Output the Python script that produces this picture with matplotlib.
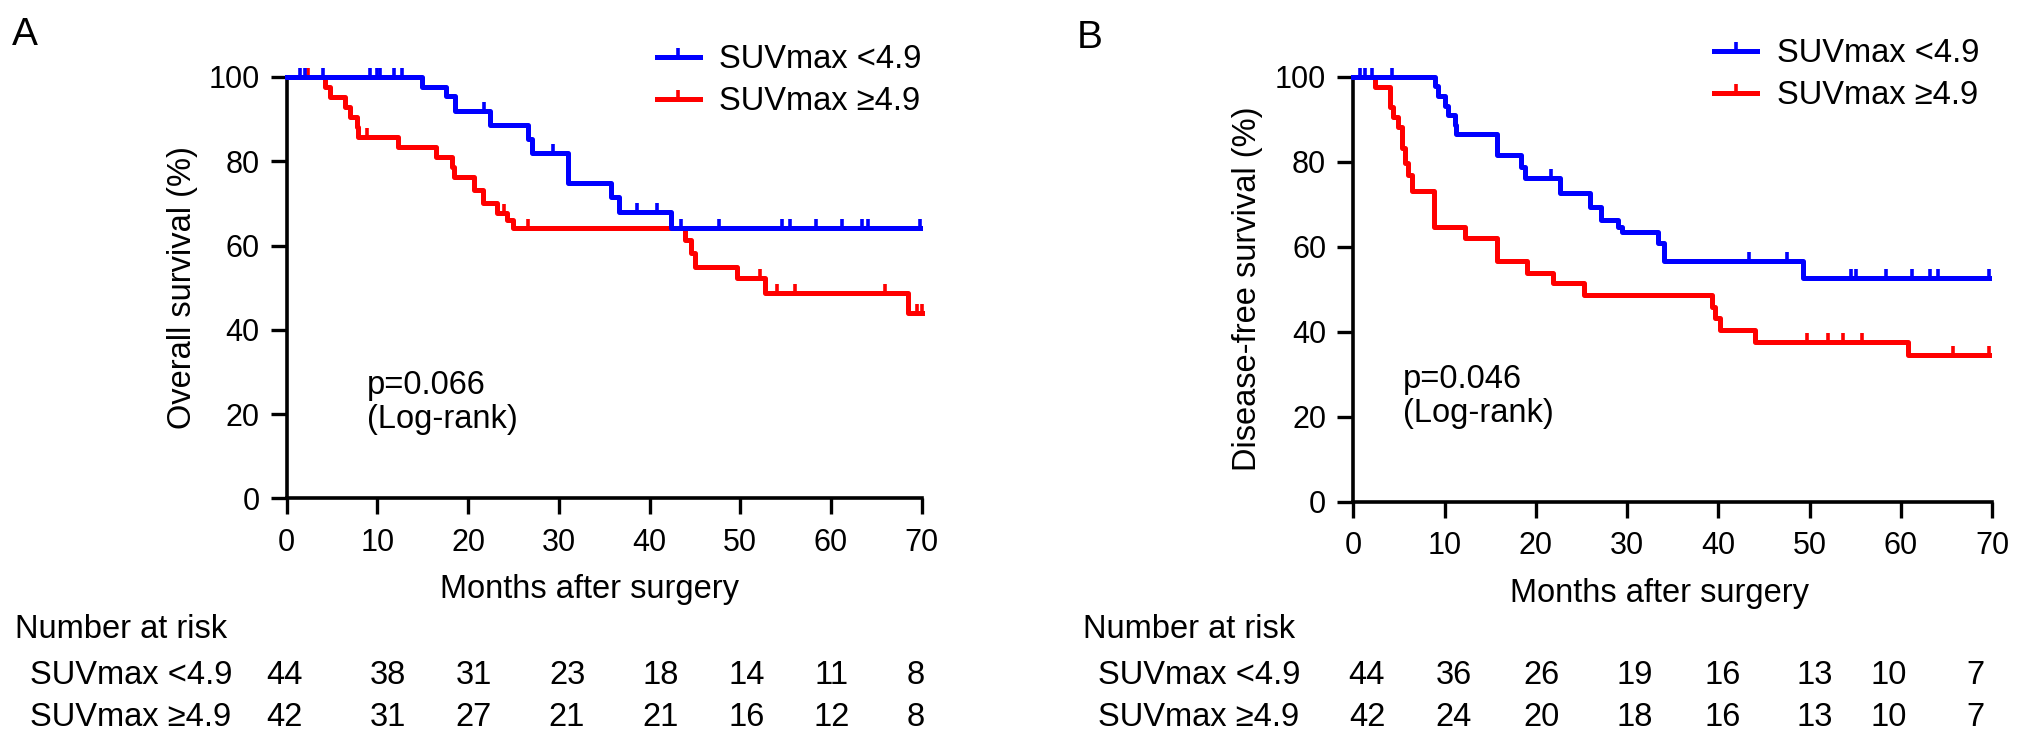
import numpy as np
import matplotlib
matplotlib.use("Agg")
import matplotlib.pyplot as plt
from matplotlib.lines import Line2D
from matplotlib.markers import TICKUP
from matplotlib.transforms import blended_transform_factory

plt.rcParams['font.family'] = ['Liberation Sans', 'DejaVu Sans']

W, H = 2032, 740
BLUE = '#0000ff'
RED = '#ff0000'
LABELS = ['SUVmax <4.9', 'SUVmax \u22654.9']

# --- DATA ---
# Panel A: overall survival
os_low_t = [0, 14.9, 17.6, 18.6, 22.4, 26.6, 27.0, 31.0, 35.8, 36.6, 42.4]
os_low_s = [100, 97.7, 95.5, 92.0, 88.6, 85.4, 81.9, 74.8, 71.6, 68.0, 64.1]
os_low_c = [1.5, 2.0, 4.0, 9.2, 9.9, 10.3, 11.8, 12.7, 21.7, 29.4, 38.6, 40.8,
            43.5, 47.6, 54.6, 55.5, 58.4, 61.2, 63.4, 64.1, 69.8]

os_high_t = [0, 4.2, 4.8, 6.4, 7.0, 7.7, 7.9, 12.3, 16.5, 18.2, 18.4, 20.6, 21.6,
             23.2, 24.3, 25.0, 43.9, 44.6, 45.0, 49.6, 52.7, 68.5]
os_high_s = [100, 97.6, 95.2, 92.9, 90.5, 88.1, 85.7, 83.3, 81.0, 78.6, 76.2, 73.2, 70.0,
             67.8, 66.1, 64.1, 61.3, 58.2, 55.0, 52.2, 48.7, 43.9]
os_high_c = [2.4, 8.8, 24.0, 26.6, 52.2, 54.0, 56.0, 66.0, 69.5, 70.0]

# Panel B: disease-free survival
dfs_low_t = [0, 8.9, 9.3, 10.0, 10.4, 11.1, 11.3, 15.7, 18.4, 18.8, 22.6, 25.9, 27.2,
             29.0, 29.4, 33.4, 34.0, 49.3]
dfs_low_s = [100, 97.7, 95.5, 93.2, 90.9, 88.6, 86.4, 81.5, 78.8, 76.1, 72.6, 69.4, 66.3,
             64.7, 63.5, 60.8, 56.5, 52.6]
dfs_low_c = [0.7, 1.3, 2.1, 4.2, 21.7, 43.4, 47.5, 54.6, 55.1, 58.4, 61.2, 63.2, 64.1, 69.7]

dfs_high_t = [0, 2.4, 4.0, 4.4, 4.9, 5.3, 5.7, 6.0, 6.4, 8.8, 12.2, 15.7, 19.0, 21.9,
              25.3, 39.3, 39.6, 40.2, 44.0, 60.8]
dfs_high_s = [100, 97.6, 92.9, 90.5, 88.1, 83.3, 79.7, 76.9, 73.0, 64.7, 62.0, 56.5, 53.7,
              51.4, 48.6, 45.9, 43.2, 40.4, 37.6, 34.5]
dfs_high_c = [49.7, 52.0, 53.7, 55.7, 65.7, 69.7]

# number at risk
risk_a_low = [44, 38, 31, 23, 18, 14, 11, 8]
risk_a_high = [42, 31, 27, 21, 21, 16, 12, 8]
risk_b_low = [44, 36, 26, 19, 16, 13, 10, 7]
risk_b_high = [42, 24, 20, 18, 16, 13, 10, 7]

# --- LAYOUT (pixels) ---
RISK_COLS_A = [-0.2, 11.2, 20.6, 30.9, 41.2, 50.7, 60.1, 69.3]
RISK_COLS_B = [1.5, 11.0, 20.6, 30.8, 40.5, 50.6, 58.7, 68.2]
FS = 23.5
FS_TICK = 22
LW = 3.6
MS, MEW = 6.5, 2.6


def fx(x):
    return x / W


def fy(y):
    return 1 - y / H


def km(ax, t, s, cens, color, z):
    t_end = max(max(cens), t[-1])
    ax.step(list(t) + [t_end], list(s) + [s[-1]], where='post', color=color, lw=LW,
            clip_on=False, zorder=z)
    idx = np.searchsorted(t, cens, side='right') - 1
    ax.plot(cens, np.asarray(s)[idx], ls='none', marker=TICKUP, ms=MS, mew=MEW,
            color=color, clip_on=False, zorder=z)


def style(ax):
    ax.set_xlim(0, 70)
    ax.set_ylim(0, 100)
    ax.set_xticks(range(0, 71, 10))
    ax.set_yticks(range(0, 101, 20))
    for sp in ['top', 'right']:
        ax.spines[sp].set_visible(False)
    for sp in ['left', 'bottom']:
        ax.spines[sp].set_linewidth(2.6)
    ax.tick_params(axis='both', direction='out', length=11.5, width=2.4, labelsize=FS_TICK)
    ax.tick_params(axis='x', pad=10)
    ax.tick_params(axis='y', pad=8)


def risk_table(fig, ax, cols, head_x, row_x, low, high):
    tr = blended_transform_factory(ax.transData, fig.transFigure)
    fig.text(fx(head_x), fy(637.5), 'Number at risk', fontsize=FS, va='baseline')
    for lab, vals, base in zip(LABELS, [low, high], [683.5, 725.5]):
        fig.text(fx(row_x), fy(base), lab, fontsize=FS, va='baseline')
        for c, v in zip(cols, vals):
            ax.text(c, fy(base), str(v), transform=tr, fontsize=FS, ha='center', va='baseline')


def legend(fig, ax, x, y):
    handles = [Line2D([], [], color=c, lw=LW, marker=TICKUP, ms=MS, mew=MEW) for c in (BLUE, RED)]
    ax.legend(handles, LABELS, loc='upper left', bbox_to_anchor=(fx(x), fy(y)),
              bbox_transform=fig.transFigure, frameon=False, borderpad=0, borderaxespad=0,
              handlelength=1.32, handletextpad=0.6, labelspacing=0.35, fontsize=FS,
              numpoints=1)


fig = plt.figure(figsize=(W / 100, H / 100), dpi=100)
ax_a = fig.add_axes([fx(286.7), fy(498.3), (921.7 - 286.7) / W, (498.3 - 77) / H])
ax_b = fig.add_axes([fx(1353.3), fy(501.5), (1992 - 1353.3) / W, (501.5 - 76.7) / H])

# Panel A
km(ax_a, os_high_t, os_high_s, os_high_c, RED, 3)
km(ax_a, os_low_t, os_low_s, os_low_c, BLUE, 4)
style(ax_a)
legend(fig, ax_a, 656.7, 44)
fig.text(fx(182), fy(288), 'Overall survival (%)', rotation=90, fontsize=FS, ha='center', va='center')
fig.text(fx(590), fy(598), 'Months after surgery', fontsize=FS, ha='center', va='baseline')
fig.text(fx(366.7), fy(394), 'p=0.066', fontsize=FS, va='baseline')
fig.text(fx(366.7), fy(428), '(Log-rank)', fontsize=FS, va='baseline')
fig.text(fx(12), fy(45), 'A', fontsize=28, va='baseline')
risk_table(fig, ax_a, RISK_COLS_A, 15, 30, risk_a_low, risk_a_high)

# Panel B
km(ax_b, dfs_high_t, dfs_high_s, dfs_high_c, RED, 3)
km(ax_b, dfs_low_t, dfs_low_s, dfs_low_c, BLUE, 4)
style(ax_b)
legend(fig, ax_b, 1714, 38)
fig.text(fx(1247.5), fy(289), 'Disease-free survival (%)', rotation=90, fontsize=FS,
         ha='center', va='center')
fig.text(fx(1659.4), fy(602), 'Months after surgery', fontsize=FS, ha='center', va='baseline')
fig.text(fx(1403.3), fy(388), 'p=0.046', fontsize=FS, va='baseline')
fig.text(fx(1403.3), fy(421.7), '(Log-rank)', fontsize=FS, va='baseline')
fig.text(fx(1077), fy(48), 'B', fontsize=28, va='baseline')
risk_table(fig, ax_b, RISK_COLS_B, 1083.3, 1098.3, risk_b_low, risk_b_high)

fig.savefig('out.png', dpi=100)
